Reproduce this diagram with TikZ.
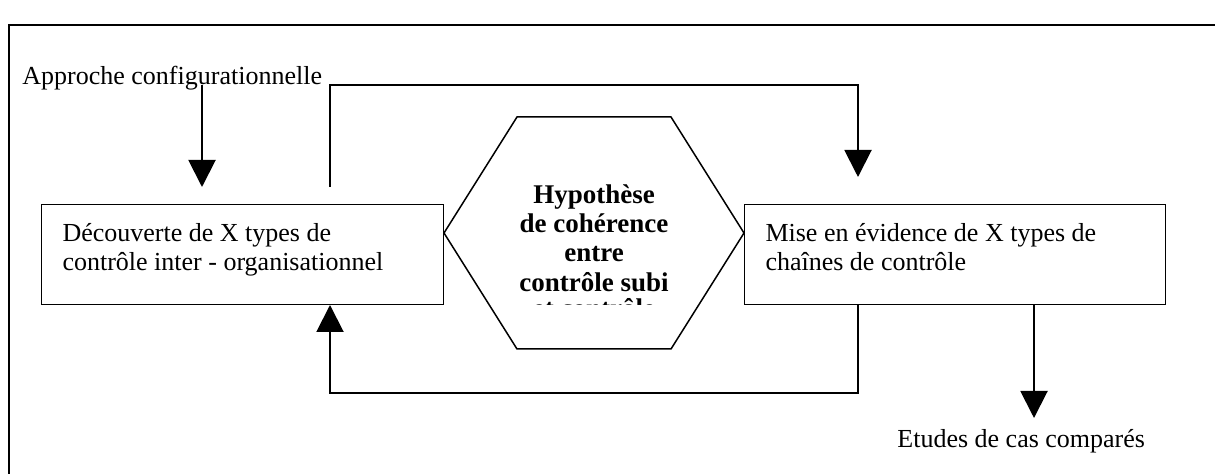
\documentclass[tikz,border=0pt]{standalone}
\usepackage{fontspec}
\setmainfont{Liberation Serif}
\usetikzlibrary{arrows.meta,positioning}
\tikzstyle{block} = [draw, line width=0.5pt, rectangle, anchor=north west,
    align=flush left, inner xsep=10.5pt, inner ysep=0pt,
    text height=18.5pt, text depth=31.5pt]
\tikzstyle{hexa} = [align=center, inner sep=0pt,
    font=\fontsize{13.5pt}{14.7pt}\selectfont\bfseries]
\tikzstyle{note} = [inner sep=0pt, anchor=base west]
\tikzstyle{conn} = [line width=1pt]

\begin{document}
\begin{tikzpicture}[x=0.5pt, y=-0.5pt, >={Triangle[width=13.5pt,length=13.5pt]},
    font=\fontsize{13pt}{14.7pt}\selectfont]
    \useasboundingbox (0,0) rectangle (1215,474);
    % the frame is open on the right and at the bottom
    \draw [line width=0.7pt] (9,474) -- (9,25) -- (1215,25);

    % We start by placing the blocks
    \node [block, text width=180pt] (decouv) at (41,204)
        {Découverte de X types de\\contrôle inter - organisationnel};
    \node [block, text width=189.5pt] (mise) at (744,204)
        {Mise en évidence de X types de\\chaînes de contrôle};
    \node [note] (appr) at (22,85) {Approche configurationnelle};
    \node [note] (etudes) at (897,448) {Etudes de cas comparés};

    % the hexagon, its last line is cut off at the bottom of the boxes
    \coordinate (hc) at (594,233);
    \draw [line width=0.75pt] (hc) ++(-150,0) -- ++(73,-116) -- ++(154,0)
        -- ++(73,116) -- ++(-73,116) -- ++(-154,0) -- cycle;
    \begin{scope}
        \clip (444,110) rectangle (744,305);
        \node [hexa, anchor=north] (hyp) at (594,184)
            {Hypothèse\\de cohérence\\entre\\contrôle subi\\[-1.5pt]et contrôle};
    \end{scope}

    % free ends of the connectors
    \coordinate (apin) at (202,187);
    \coordinate (lout) at (330,187);
    \coordinate (rin) at (858,177);
    \coordinate (ret) at (858,393);
    \coordinate (ein) at (1034,418);

    % Once the nodes are placed, connecting them is easy.
    \draw [conn,->] (appr.base -| apin) -- (apin);
    \draw [conn,->] (lout) -- (lout |- appr.base) -| (rin);
    \draw [conn,->] (mise.south -| ret) -- (ret) -| (lout |- decouv.south);
    \draw [conn,->] (mise.south -| ein) -- (ein);
\end{tikzpicture}
\end{document}
